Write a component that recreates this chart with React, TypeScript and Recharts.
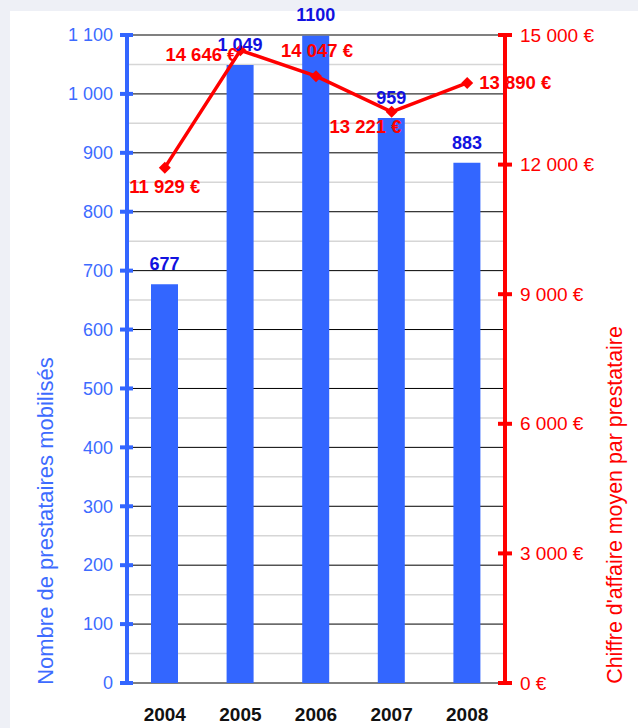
import {
  ComposedChart,
  Bar,
  Line,
  XAxis,
  YAxis,
  CartesianGrid,
  LabelList,
  ReferenceLine,
} from 'recharts';

const years = ['2004', '2005', '2006', '2007', '2008'];
const prestataires = [677, 1049, 1100, 959, 883];
const prestataireLabels = ['677', '1 049', '1100', '959', '883'];
const chiffreMoyen = [11929, 14646, 14047, 13221, 13890];

const leftTicks = [0, 100, 200, 300, 400, 500, 600, 700, 800, 900, 1000, 1100];
const rightTicks = [0, 3000, 6000, 9000, 12000, 15000];
const minorGrid = [50, 150, 250, 350, 450, 550, 650, 750, 850, 950, 1050];

// where each euro label sits relative to its point [dx, dy]
const euroLabelShift = [
  [0, 19],
  [-39, 4],
  [1, -26],
  [-26, 15],
  [48, 0],
];

const BLUE = '#3366ff';
const BLUE_TEXT = '#3d6bff';
const BLUE_LABEL = '#1212e0';
const RED = '#ff0000';
const FONT = '"Liberation Sans", Arial, sans-serif';

const data = years.map((year, i) => ({
  year,
  prestataires: prestataires[i],
  chiffre: chiffreMoyen[i],
}));

const spaced = (v: number) => String(v).replace(/\B(?=(\d{3})+(?!\d))/g, ' ');

// minor grid rows (every 50) between the labelled ticks
const minorRows = (props: any) => {
  const scale = props?.yAxis?.scale;
  if (typeof scale === 'function') return minorGrid.map((v) => scale(v));
  if (scale && typeof scale.map === 'function') return minorGrid.map((v) => scale.map(v));
  const { top, height } = props.offset;
  return minorGrid.map((v) => top + height * (1 - v / 1100));
};

const LeftTick = ({ x, y, payload }: any) => (
  <g>
    <line x1={x - 7} x2={x + 6} y1={y} y2={y} stroke={BLUE} strokeWidth={4} />
    <text x={x - 14} y={y} dy="0.35em" textAnchor="end" fontSize={18} fill={BLUE_TEXT} fontFamily={FONT}>
      {spaced(payload.value)}
    </text>
  </g>
);

const RightTick = ({ x, y, payload }: any) => (
  <g>
    <line x1={x - 7} x2={x + 7} y1={y} y2={y} stroke={RED} strokeWidth={4} />
    <text x={x + 15} y={y} dy="0.35em" textAnchor="start" fontSize={19} fill={RED} fontFamily={FONT}>
      {spaced(payload.value) + ' €'}
    </text>
  </g>
);

const YearTick = ({ x, y, payload }: any) => (
  <text x={x} y={y + 31} dy="0.35em" textAnchor="middle" fontSize={19} fontWeight="bold" fill="#111" fontFamily={FONT}>
    {payload.value}
  </text>
);

const Diamond = (props: any) => {
  const { cx, cy, index } = props;
  return (
    <path
      key={`d-${index}`}
      d={`M${cx},${cy - 6} L${cx + 6},${cy} L${cx},${cy + 6} L${cx - 6},${cy} Z`}
      fill={RED}
    />
  );
};

const BarValue = (props: any) => {
  const { x, y, width, index } = props;
  return (
    <text
      x={x + width / 2}
      y={y - 20}
      dy="0.35em"
      textAnchor="middle"
      fontSize={18}
      fontWeight="bold"
      fill={BLUE_LABEL}
      fontFamily={FONT}
    >
      {prestataireLabels[index]}
    </text>
  );
};

const EuroValue = (props: any) => {
  const { x, y, value } = props;
  const i = props.index ?? chiffreMoyen.indexOf(value);
  const [dx, dy] = euroLabelShift[i];
  return (
    <text
      x={x + dx}
      y={y + dy}
      dy="0.35em"
      textAnchor="middle"
      fontSize={18.5}
      fontWeight="bold"
      fill={RED}
      fontFamily={FONT}
    >
      {spaced(value) + ' €'}
    </text>
  );
};

const LeftTitle = ({ viewBox }: any) => {
  const cx = viewBox.x + 45;
  const cy = 521;
  return (
    <text x={cx} y={cy} transform={`rotate(-90 ${cx} ${cy})`} dy="0.35em" textAnchor="middle" fontSize={22} fill={BLUE_TEXT} fontFamily={FONT}>
      Nombre de prestataires mobilisés
    </text>
  );
};

const RightTitle = ({ viewBox }: any) => {
  const cx = viewBox.x + 110;
  const cy = 505;
  return (
    <text x={cx} y={cy} transform={`rotate(-90 ${cx} ${cy})`} dy="0.35em" textAnchor="middle" fontSize={21.4} fill={RED} fontFamily={FONT}>
      Chiffre d'affaire moyen par prestataire
    </text>
  );
};

export default function App() {
  return (
    <div style={{ position: 'absolute', left: 0, top: 0, width: 638, height: 728, background: '#eef0f6', overflow: 'hidden' }}>
      <div style={{ position: 'absolute', left: 10, top: 11, right: 0, bottom: 0, background: '#ffffff' }} />
      <div style={{ position: 'absolute', left: 0, top: 0 }}>
        <ComposedChart width={638} height={728} data={data} margin={{ top: 35, right: 0, bottom: 0, left: 0 }}>
          <CartesianGrid
            yAxisId="left"
            vertical={false}
            stroke="#d6d6d6"
            strokeWidth={1.5}
            horizontalCoordinatesGenerator={minorRows}
          />
          <CartesianGrid yAxisId="left" vertical={false} stroke="#000000" strokeWidth={1} />
          <XAxis dataKey="year" height={45} axisLine={false} tickLine={false} tickSize={0} tickMargin={0} tick={<YearTick />} />
          <YAxis
            yAxisId="left"
            width={127}
            domain={[0, 1100]}
            ticks={leftTicks}
            interval={0}
            axisLine={{ stroke: BLUE, strokeWidth: 4 }}
            tickLine={false}
            tickSize={0}
            tickMargin={0}
            tick={<LeftTick />}
            label={{ content: <LeftTitle /> }}
          />
          <YAxis
            yAxisId="right"
            orientation="right"
            width={133}
            domain={[0, 15000]}
            ticks={rightTicks}
            interval={0}
            axisLine={{ stroke: RED, strokeWidth: 4 }}
            tickLine={false}
            tickSize={0}
            tickMargin={0}
            tick={<RightTick />}
            label={{ content: <RightTitle /> }}
          />
          <ReferenceLine yAxisId="left" y={1100} stroke="#808080" strokeWidth={1.5} />
          <Bar yAxisId="left" dataKey="prestataires" fill={BLUE} barSize={27} isAnimationActive={false}>
            <LabelList dataKey="prestataires" content={<BarValue />} />
          </Bar>
          <Line
            yAxisId="right"
            dataKey="chiffre"
            type="linear"
            stroke={RED}
            strokeWidth={3.5}
            dot={<Diamond />}
            activeDot={false}
            isAnimationActive={false}
          >
            <LabelList dataKey="chiffre" content={<EuroValue />} />
          </Line>
        </ComposedChart>
      </div>
    </div>
  );
}
